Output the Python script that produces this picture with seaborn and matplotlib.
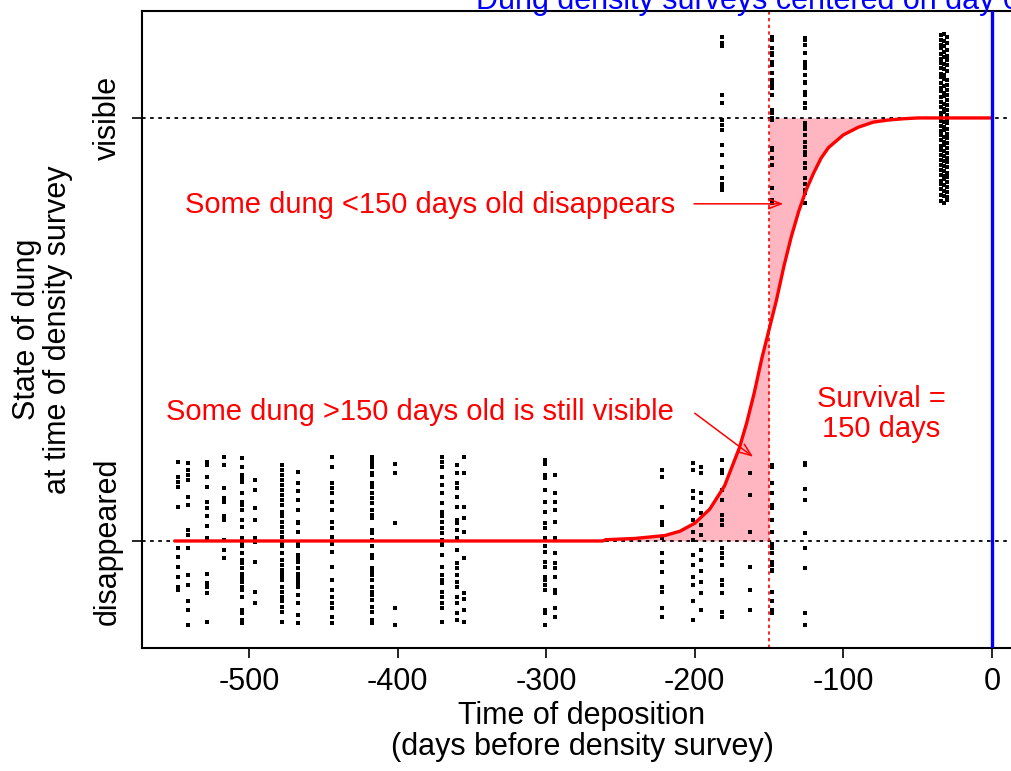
import matplotlib
matplotlib.use("Agg")
import matplotlib.pyplot as plt
import pandas as pd
import seaborn as sns

# ---------------- data ----------------
# columns of dung piles that had disappeared (state 0 + vertical jitter)
LOW_DAYS = [-548, -541, -528, -517, -505, -496, -478, -467, -444, -417, -402,
            -370, -360, -355, -301, -294, -222, -201, -196, -182, -163, -148, -126]
LOW_Y = [
    [0.187, 0.152, 0.140, 0.128, 0.081, -0.017, -0.037, -0.061, -0.084, -0.108, -0.116],
    [0.184, 0.168, 0.156, 0.144, 0.105, 0.085, 0.026, 0.014, -0.017, -0.080, -0.104, -0.143, -0.163, -0.199],
    [0.187, 0.180, 0.152, 0.128, 0.093, 0.077, 0.058, 0.036, 0.006, -0.077, -0.100, -0.108, -0.124, -0.191],
    [0.199, 0.180, 0.125, 0.101, 0.093, 0.058, 0.050, 0.002, -0.021, -0.041],
    [0.196, 0.176, 0.156, 0.148, 0.140, 0.113, 0.093, 0.085, 0.073, 0.050, 0.034, 0.006, -0.006, -0.013,
     -0.029, -0.045, -0.053, -0.065, -0.077, -0.088, -0.096, -0.108, -0.116, -0.132, -0.163, -0.171, -0.187, -0.195],
    [0.144, 0.121, 0.077, 0.050, 0.006, -0.002, -0.049, -0.120, -0.147],
    [0.180, 0.168, 0.156, 0.144, 0.132, 0.121, 0.109, 0.097, 0.085, 0.069, 0.058, 0.046, 0.034, 0.022, 0.010,
     -0.002, -0.013, -0.029, -0.045, -0.057, -0.069, -0.077, -0.084, -0.092, -0.108, -0.120, -0.132, -0.143,
     -0.155, -0.167, -0.191],
    [0.164, 0.136, 0.117, 0.097, 0.073, 0.046, 0.042, 0.022, -0.002, -0.013, -0.033, -0.041, -0.049, -0.065,
     -0.077, -0.084, -0.092, -0.100, -0.108, -0.128, -0.147, -0.175, -0.195],
    [0.199, 0.176, 0.136, 0.125, 0.113, 0.093, 0.073, 0.046, 0.030, 0.010, -0.006, -0.025, -0.061, -0.092,
     -0.116, -0.132, -0.147, -0.159, -0.179, -0.195],
    [0.199, 0.191, 0.183, 0.176, 0.160, 0.156, 0.136, 0.128, 0.113, 0.101, 0.089, 0.073, 0.062, 0.054, 0.026,
     0.018, 0.002, -0.013, -0.033, -0.041, -0.065, -0.073, -0.080, -0.092, -0.108, -0.120, -0.128, -0.139,
     -0.155, -0.167, -0.187, -0.195],
    [0.183, 0.160, 0.042, -0.159, -0.199],
    [0.199, 0.187, 0.176, 0.152, 0.132, 0.113, 0.089, 0.069, 0.058, 0.046, 0.030, 0.018, 0.002, -0.006, -0.009,
     -0.033, -0.061, -0.080, -0.092, -0.100, -0.120, -0.132, -0.147, -0.159, -0.191],
    [0.180, 0.160, 0.136, 0.125, 0.105, 0.081, 0.050, 0.042, 0.026, 0.006, -0.021, -0.053, -0.065, -0.080,
     -0.096, -0.108, -0.132, -0.147, -0.171, -0.187],
    [0.199, 0.160, 0.081, 0.054, 0.022, -0.041, -0.124, -0.136, -0.163, -0.191],
    [0.191, 0.183, 0.156, 0.148, 0.121, 0.093, 0.069, 0.042, 0.030, 0.006, -0.013, -0.025, -0.049, -0.061,
     -0.084, -0.092, -0.104, -0.116, -0.163, -0.171, -0.199],
    [0.156, 0.113, 0.093, 0.073, 0.046, 0.006, -0.029, -0.053, -0.065, -0.084, -0.116, -0.124, -0.159, -0.179],
    [0.168, 0.152, 0.081, 0.046, 0.038, 0.006, -0.029, -0.049, -0.073, -0.108, -0.120, -0.159, -0.179],
    [0.184, 0.168, 0.117, 0.101, 0.073, 0.050, 0.022, 0.002, -0.033, -0.057, -0.084, -0.104, -0.143, -0.186],
    [0.176, 0.160, 0.113, 0.093, 0.066, 0.038, 0.014, -0.021, -0.045, -0.072, -0.096, -0.124, -0.163],
    [0.191, 0.168, 0.160, 0.120, 0.097, 0.062, 0.050, 0.038, -0.017, -0.029, -0.041, -0.057, -0.092, -0.104,
     -0.124, -0.167, -0.179],
    [0.160, 0.109, 0.022, -0.061, -0.116, -0.163],
    [0.180, 0.176, 0.136, 0.113, 0.085, 0.077, 0.050, 0.022, -0.006, -0.017, -0.029, -0.049, -0.057, -0.069,
     -0.072, -0.120, -0.143, -0.163, -0.171],
    [0.184, 0.180, 0.124, 0.097, 0.018, -0.017, -0.065, -0.171, -0.198],
]

# columns of dung piles still visible (state 1 + vertical jitter)
HIGH_DAYS = [-182, -148, -126, -34, -32, -30]
HIGH_Y = [
    [1.192, 1.176, 1.169, 1.054, 1.035, 0.995, 0.983, 0.972, 0.936, 0.913, 0.885, 0.857, 0.845, 0.838, 0.830],
    [1.192, 1.184, 1.165, 1.153, 1.149, 1.133, 1.125, 1.106, 1.090, 1.086, 1.078, 1.070, 1.054, 1.019, 1.011,
     0.999, 0.995, 0.928, 0.924, 0.905, 0.889, 0.834, 0.806, 0.798],
    [1.188, 1.184, 1.172, 1.153, 1.133, 1.125, 1.117, 1.102, 1.086, 1.082, 1.062, 1.054, 1.035, 1.023, 0.987,
     0.979, 0.975, 0.960, 0.944, 0.932, 0.920, 0.913, 0.893, 0.881, 0.857, 0.845, 0.830, 0.822, 0.798],
    [1.196, 1.185, 1.172, 1.166, 1.151, 1.140, 1.131, 1.119, 1.104, 1.097, 1.082, 1.071, 1.063, 1.049, 1.038,
     1.027, 1.012, 1.004, 0.993, 0.981, 0.968, 0.959, 0.947, 0.933, 0.925, 0.912, 0.901, 0.889, 0.878, 0.866,
     0.852, 0.844, 0.831, 0.819, 0.803],
    [1.199, 1.181, 1.169, 1.155, 1.143, 1.128, 1.116, 1.101, 1.093, 1.075, 1.060, 1.052, 1.034, 1.022, 1.015,
     0.990, 0.978, 0.971, 0.955, 0.944, 0.936, 0.921, 0.909, 0.898, 0.886, 0.874, 0.862, 0.855, 0.841, 0.828,
     0.815, 0.800],
    [1.191, 1.178, 1.160, 1.147, 1.136, 1.125, 1.112, 1.090, 1.078, 1.066, 1.055, 1.043, 1.031, 1.019, 1.008,
     0.998, 0.987, 0.975, 0.963, 0.952, 0.940, 0.929, 0.918, 0.906, 0.895, 0.883, 0.871, 0.860, 0.848, 0.837,
     0.825, 0.812, 0.807],
]

# fitted probability that dung is still visible
CURVE_DAYS = [-550, -262, -260, -240, -220, -210, -200, -190, -180, -170, -165, -160, -155, -150, -145, -140,
              -135, -130, -125, -120, -115, -110, -100, -90, -80, -70, -60, -50, 0]
CURVE_P = [0.0, 0.0, 0.003, 0.006, 0.013, 0.023, 0.042, 0.075, 0.13, 0.22, 0.28, 0.35, 0.43, 0.50, 0.57, 0.65,
           0.72, 0.78, 0.83, 0.87, 0.905, 0.93, 0.96, 0.978, 0.99, 0.995, 0.998, 1.0, 1.0]

SURVIVAL_DAY = -150
X_TICKS = [-500, -400, -300, -200, -100, 0]
Y_TICKS = [0, 1]
Y_TICK_LABELS = ["disappeared", "visible"]

# ---------------- build tidy frames ----------------
pts = []
for d, ys in zip(LOW_DAYS, LOW_Y):
    pts += [(d, y) for y in ys]
for d, ys in zip(HIGH_DAYS, HIGH_Y):
    pts += [(d, y) for y in ys]
points = pd.DataFrame(pts, columns=["day", "state"])
curve = pd.DataFrame({"day": CURVE_DAYS, "p": CURVE_P})

# ---------------- styling ----------------
sns.set_style("white")
plt.rcParams["font.family"] = ["Liberation Sans", "DejaVu Sans"]
plt.rcParams["axes.unicode_minus"] = False
plt.rcParams["text.color"] = "black"
plt.rcParams["axes.labelcolor"] = "black"
plt.rcParams["xtick.color"] = "black"
plt.rcParams["ytick.color"] = "black"

FS = 22
RED = "#FF0000"
PINK = "#FFB6C1"
BLUE = "#0000FF"

fig = plt.figure(figsize=(10.12, 7.71), dpi=100)
ax = fig.add_axes([142 / 1012, 1 - 648 / 771, 880 / 1012, (648 - 10.5) / 771])
ax.set_xlim(-572, 20.2)
ax.set_ylim(-0.253, 1.254)

# shaded areas between the curve and the step at survival time
lo = curve[(curve.day >= -262) & (curve.day <= SURVIVAL_DAY)]
hi = curve[(curve.day >= SURVIVAL_DAY) & (curve.day <= -50)]
ax.fill_between(lo.day, 0, lo.p, color=PINK, lw=0, zorder=1)
ax.fill_between(hi.day, hi.p, 1, color=PINK, lw=0, zorder=1)

# reference lines
for yv in Y_TICKS:
    ax.axhline(yv, color="black", lw=1.3, ls=(0, (2, 2.5)), zorder=2)
ax.axvline(SURVIVAL_DAY, color=RED, lw=1.2, ls=(0, (2, 2)), zorder=2)

# observations
sns.scatterplot(data=points, x="day", y="state", ax=ax, marker="s", s=5,
                color="black", linewidth=0, zorder=3, legend=False)

# fitted curve
sns.lineplot(data=curve, x="day", y="p", ax=ax, color=RED, lw=2.4, zorder=4,
             estimator=None, sort=False)

ax.axvline(0, color=BLUE, lw=2.4, zorder=5)

# annotations
ax.text(-213, 0.795, "Some dung <150 days old disappears", color=RED, fontsize=21,
        ha="right", va="center")
ax.annotate("", xy=(-140.5, 0.797), xytext=(-200.5, 0.797),
            arrowprops=dict(arrowstyle="->,head_length=0.9,head_width=0.35", color=RED, lw=1.1,
                            shrinkA=0, shrinkB=0))
ax.text(-214, 0.305, "Some dung >150 days old is still visible", color=RED, fontsize=21,
        ha="right", va="center")
ax.annotate("", xy=(-160.8, 0.199), xytext=(-200, 0.302),
            arrowprops=dict(arrowstyle="->,head_length=0.9,head_width=0.35", color=RED, lw=1.1,
                            shrinkA=0, shrinkB=0))
ax.text(-74.5, 0.30, "Survival =\n150 days", color=RED, fontsize=21, ha="center", va="center",
        multialignment="center", linespacing=1.1)

fig.text(476 / 1012, 1 - 9 / 771, "Dung density surveys centered on day 0", color=BLUE,
         fontsize=FS, ha="left", va="baseline")

# axes, ticks, labels
ax.set_xticks(X_TICKS)
ax.set_xticklabels([str(t) for t in X_TICKS], fontsize=FS)
ax.set_yticks(Y_TICKS)
ax.set_yticklabels(Y_TICK_LABELS, fontsize=FS, rotation=90, va="center")
ax.tick_params(axis="both", direction="out", length=7, width=1.2, color="black", pad=7,
               labelcolor="black", bottom=True, left=True)
ax.set_xlabel("Time of deposition\n(days before density survey)", fontsize=FS, linespacing=1.05,
              color="black")
ax.set_ylabel("State of dung\nat time of density survey", fontsize=FS, linespacing=1.05,
              color="black")
ax.xaxis.set_label_coords(0.5, -0.083)
ax.yaxis.set_label_coords(-0.078, 0.5)

for side in ["left", "top", "bottom"]:
    ax.spines[side].set_visible(True)
    ax.spines[side].set_color("black")
    ax.spines[side].set_linewidth(1.5)
ax.spines["right"].set_visible(False)

fig.savefig("out.png", dpi=100)
